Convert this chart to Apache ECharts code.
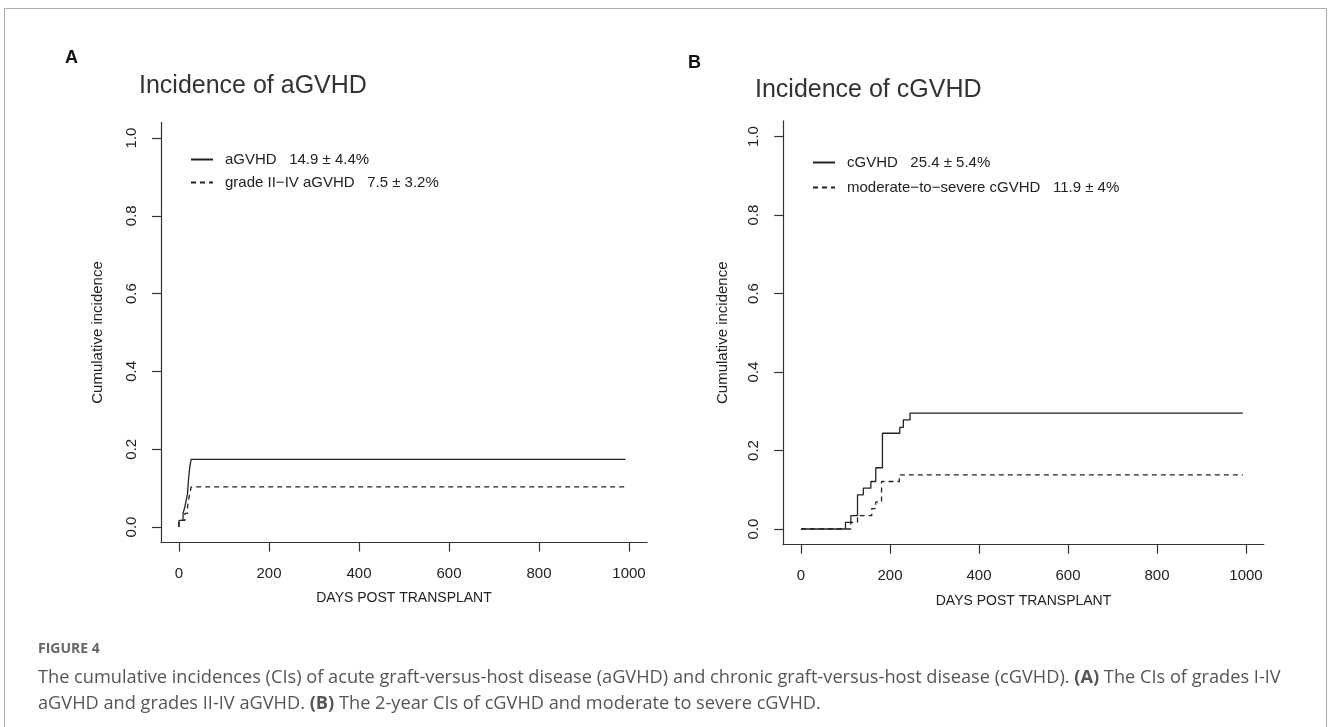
<!DOCTYPE html>
<html><head><meta charset="utf-8">
<script src="https://cdn.jsdelivr.net/npm/echarts@6/dist/echarts.min.js"></script>
<style>html,body{margin:0;padding:0;background:#fff}#c{width:1328px;height:727px}</style>
</head><body><div id="c"></div>
<script>
const xTicks = [0, 200, 400, 600, 800, 1000];
const yTicks = [0, 0.2, 0.4, 0.6, 0.8, 1.0];

// Panel A: acute GVHD
const aSolidDays   = [0, 0,     9,     13,    16,    19,    21,    24,    27,    992];
const aSolidValues = [0, 0.017, 0.035, 0.052, 0.069, 0.086, 0.121, 0.155, 0.174, 0.174];
const aDashDays    = [0, 0,     13,    19,    21,    24,    27,    992];
const aDashValues  = [0, 0.017, 0.035, 0.052, 0.069, 0.086, 0.103, 0.103];

// Panel B: chronic GVHD
const bSolidDays   = [0, 100,   112,   127,   140,   157,   168,   183,   222,   230,   245,   993];
const bSolidValues = [0, 0.017, 0.034, 0.087, 0.104, 0.121, 0.156, 0.244, 0.259, 0.278, 0.295, 0.295];
const bDashDays    = [0, 112,   127,   159,   168,   181,   221,   993];
const bDashValues  = [0, 0.017, 0.034, 0.052, 0.069, 0.121, 0.138, 0.138];

const nameA1 = 'aGVHD   14.9 \u00b1 4.4%';
const nameA2 = 'grade II\u2212IV aGVHD   7.5 \u00b1 3.2%';
const nameB1 = 'cGVHD   25.4 \u00b1 5.4%';
const nameB2 = 'moderate\u2212to\u2212severe cGVHD   11.9 \u00b1 4%';

const FONT = 'Liberation Sans, Arial, sans-serif';
const CAPFONT = 'Open Sans, sans-serif';
const pairs = (xs, ys) => xs.map((x, i) => [x, ys[i]]);

function xAx(idx) {
  return {
    type: 'value', gridIndex: idx, min: -40, max: 1040,
    name: 'DAYS POST TRANSPLANT', nameLocation: 'middle', nameGap: 49,
    nameTextStyle: {fontFamily: FONT, fontSize: 14, color: '#222'},
    axisLine: {show: true, onZero: false, lineStyle: {color: '#333', width: 1.2}},
    axisTick: {show: true, customValues: xTicks, length: 9, lineStyle: {color: '#333', width: 1.2}},
    axisLabel: {customValues: xTicks, margin: 24, fontFamily: FONT, fontSize: 15, color: '#222',
      formatter: v => String(v)},
    splitLine: {show: false}
  };
}
function yAx(idx, gap) {
  return {
    type: 'value', gridIndex: idx, min: -0.04, max: 1.04,
    name: 'Cumulative incidence', nameLocation: 'middle', nameGap: gap, nameRotate: 90,
    nameTextStyle: {fontFamily: FONT, fontSize: 15, color: '#222'},
    axisLine: {show: true, onZero: false, lineStyle: {color: '#333', width: 1.2}},
    axisTick: {show: true, customValues: yTicks, length: 9, lineStyle: {color: '#333', width: 1.2}},
    axisLabel: {customValues: yTicks, rotate: 90, margin: 22, fontFamily: FONT, fontSize: 15, color: '#222',
      formatter: v => v.toFixed(1)},
    splitLine: {show: false}
  };
}
function ser(name, idx, xs, ys, dashed) {
  return {
    name, type: 'line', xAxisIndex: idx, yAxisIndex: idx, step: 'end', symbol: 'none',
    data: pairs(xs, ys), silent: true,
    lineStyle: {color: '#222', width: 1.3, type: dashed ? [5, 4] : 'solid'},
    itemStyle: {color: '#222'}
  };
}
function leg(names, left, top, gap) {
  return {
    orient: 'vertical', left, top, padding: 0, itemWidth: 22, itemHeight: 14, itemGap: gap,
    selectedMode: false, data: names,
    itemStyle: {color: 'rgba(0,0,0,0)', borderWidth: 0, opacity: 0},
    textStyle: {fontFamily: FONT, fontSize: 15, color: '#222', padding: [0, 0, 0, 7]}
  };
}

const chart = echarts.init(document.getElementById('c'), null, {renderer: 'canvas'});
chart.setOption({
  animation: false,
  backgroundColor: '#fff',
  title: [
    {text: 'A', left: 65, top: 49, padding: 0, textStyle: {fontFamily: FONT, fontSize: 18, fontWeight: 'bold', color: '#111'}},
    {text: 'B', left: 688, top: 54, padding: 0, textStyle: {fontFamily: FONT, fontSize: 18, fontWeight: 'bold', color: '#111'}},
    {text: 'Incidence of aGVHD', left: 139, top: 74, padding: 0, textStyle: {fontFamily: FONT, fontSize: 25, fontWeight: 'normal', color: '#333'}},
    {text: 'Incidence of cGVHD', left: 755, top: 78, padding: 0, textStyle: {fontFamily: FONT, fontSize: 25, fontWeight: 'normal', color: '#333'}}
  ],
  legend: [leg([nameA1, nameA2], 190, 152, 8), leg([nameB1, nameB2], 812, 155, 10)],
  grid: [
    {left: 161, top: 122.4, width: 486, height: 420.2},
    {left: 783.2, top: 120.8, width: 480.6, height: 423.9}
  ],
  xAxis: [xAx(0), xAx(1)],
  yAxis: [yAx(0, 56), yAx(1, 53)],
  series: [
    ser(nameA1, 0, aSolidDays, aSolidValues, false),
    ser(nameA2, 0, aDashDays, aDashValues, true),
    ser(nameB1, 1, bSolidDays, bSolidValues, false),
    ser(nameB2, 1, bDashDays, bDashValues, true)
  ],
  graphic: [
    {type: 'rect', silent: true, shape: {x: 4.5, y: 8.5, width: 1322, height: 740},
      style: {fill: 'none', stroke: '#aaa', lineWidth: 1}},
    {type: 'text', left: 38, top: 642, silent: true,
      style: {text: 'FIGURE 4', fontFamily: CAPFONT, fontSize: 14, fontWeight: 'bold', fill: '#666'}},
    {type: 'text', left: 38, top: 665, silent: true,
      style: {
        text: 'The cumulative incidences (CIs) of acute graft-versus-host disease (aGVHD) and chronic graft-versus-host disease (cGVHD). {b|(A)} The CIs of grades I-IV\naGVHD and grades II-IV aGVHD. {b|(B)} The 2-year CIs of cGVHD and moderate to severe cGVHD.',
        fontFamily: CAPFONT, fontSize: 18.2, fill: '#555', lineHeight: 26,
        rich: {b: {fontFamily: CAPFONT, fontSize: 18.2, fontWeight: 'bold', fill: '#555', lineHeight: 26}}
      }}
  ]
});
</script></body></html>
